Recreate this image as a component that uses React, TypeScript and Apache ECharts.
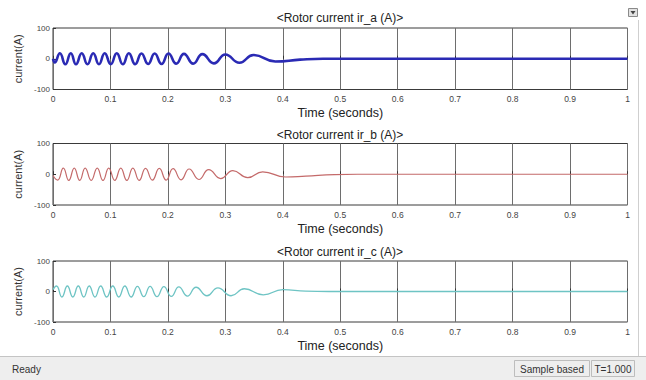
import React, { useEffect, useRef } from "react";
import * as echarts from "echarts";

// Extremes (time s, current A)
const currentA: [number, number][] = [
  [0, 0], [0.003, -12], [0.012, 18], [0.0215, -18], [0.031, 18], [0.04, -18], [0.05, 18],
  [0.06, -18], [0.07, 18], [0.08, -18], [0.09, 18], [0.1005, -18], [0.111, 18], [0.1215, -18],
  [0.132, 18], [0.143, -18], [0.154, 17], [0.1655, -17], [0.177, 17], [0.189, -17], [0.201, 17],
  [0.2145, -16], [0.228, 16], [0.244, -16], [0.26, 15], [0.28, -15], [0.3, 14], [0.3245, -13],
  [0.349, 12], [0.387, -9], [0.43, -3], [0.47, 0], [1, 0],
];
const currentB: [number, number][] = [
  [0, -4], [0.008, -19], [0.018, 20], [0.0275, -20], [0.037, 20], [0.0465, -20], [0.056, 20],
  [0.0665, -20], [0.077, 20], [0.087, -20], [0.097, 20], [0.1075, -20], [0.118, 20], [0.1285, -20],
  [0.139, 20], [0.15, -20], [0.161, 19], [0.173, -19], [0.185, 19], [0.197, -19], [0.209, 18],
  [0.223, -18], [0.237, 17], [0.254, -17], [0.271, 15], [0.292, -14], [0.313, 12], [0.339, -11],
  [0.365, 8], [0.405, -9], [0.44, -6], [0.49, -1], [0.53, 0], [1, 0],
];
const currentC: [number, number][] = [
  [0, 6], [0.006, 18], [0.0155, -18], [0.025, 18], [0.0345, -18], [0.044, 18], [0.0535, -18],
  [0.063, 18], [0.073, -18], [0.083, 18], [0.0935, -18], [0.104, 18], [0.1145, -18], [0.125, 18],
  [0.136, -18], [0.147, 17], [0.158, -17], [0.169, 17], [0.181, -17], [0.193, 16], [0.206, -16],
  [0.219, 15], [0.234, -15], [0.249, 14], [0.268, -14], [0.287, 12], [0.31, -14], [0.333, 9],
  [0.366, -11], [0.4, 6], [0.44, 1], [0.48, 0], [1, 0],
];

const panelTitles = ["<Rotor current ir_a (A)>", "<Rotor current ir_b (A)>", "<Rotor current ir_c (A)>"];
const xName = "Time (seconds)";
const yName = "current(A)";
const statusTexts = ["Ready", "Sample based", "T=1.000"];
const traceColors = ["#2a2ab4", "#c46a6a", "#6ec4c4"];
const traceWidths = [2.6, 1.2, 1.3];

const FONT = "'Liberation Sans', Arial, sans-serif";

export default function App() {
  const ref = useRef<HTMLDivElement>(null);
  useEffect(() => {
    const chart = echarts.init(ref.current!, null, { renderer: "svg" });
    const tops = [28, 143.5, 261];
    const heights = [61.5, 61.5, 61];
    const titleY = [18, 135, 251.5];
    const series = [currentA, currentB, currentC];

    const grids = tops.map((t, i) => ({
      left: 53,
      width: 574.5,
      top: t,
      height: heights[i],
      show: true,
      borderColor: "#3a3a3a",
      borderWidth: 1,
      backgroundColor: "#ffffff",
    }));
    const xAxes = tops.map((_, i) => ({
      type: "value",
      gridIndex: i,
      min: 0,
      max: 1,
      interval: 0.1,
      axisLine: { show: false },
      axisTick: { show: true, inside: true, length: 3, lineStyle: { color: "#333" } },
      axisLabel: { fontSize: 8.5, color: "#444", margin: 5, fontFamily: FONT },
      splitLine: { show: true, lineStyle: { color: "#6e6e6e", width: 1 } },
      name: xName,
      nameLocation: "middle",
      nameGap: 17,
      nameTextStyle: { fontSize: 12.5, color: "#222", fontFamily: FONT },
    }));
    const yAxes = tops.map((_, i) => ({
      type: "value",
      gridIndex: i,
      min: -100,
      max: 100,
      interval: 100,
      axisLine: { show: false },
      axisTick: { show: true, inside: true, length: 3, lineStyle: { color: "#333" } },
      axisLabel: { fontSize: 8, color: "#444", margin: 3, fontFamily: FONT },
      splitLine: { show: false },
      name: yName,
      nameLocation: "middle",
      nameGap: 27,
      nameTextStyle: { fontSize: 11, color: "#333", fontFamily: FONT },
    }));
    const lines = series.map((d, i) => ({
      type: "line",
      xAxisIndex: i,
      yAxisIndex: i,
      data: d,
      smooth: 0.5,
      showSymbol: false,
      symbol: "none",
      lineStyle: { color: traceColors[i], width: traceWidths[i] },
      z: 3,
    }));

    const graphics: any[] = [
      ...panelTitles.map((t, i) => ({
        type: "text",
        x: 340,
        y: titleY[i],
        style: { text: t, align: "center", verticalAlign: "middle", fontSize: 12, fill: "#222", fontFamily: FONT },
      })),
      { type: "line", shape: { x1: 638.5, y1: 20, x2: 638.5, y2: 357 }, style: { stroke: "#cfcfcf", lineWidth: 1 } },
      { type: "rect", shape: { x: 628.5, y: 8.5, width: 9, height: 8 }, style: { fill: "#e2e2e2", stroke: "#8a8a8a", lineWidth: 1 } },
      { type: "polygon", shape: { points: [[630.5, 11], [635.5, 11], [633, 14.5]] }, style: { fill: "#444" } },
      { type: "rect", shape: { x: 0, y: 356, width: 646, height: 24 }, style: { fill: "#eeeeee" } },
      { type: "line", shape: { x1: 0, y1: 356.5, x2: 646, y2: 356.5 }, style: { stroke: "#c4c4c4", lineWidth: 1 } },
      {
        type: "text", x: 12, y: 369,
        style: { text: statusTexts[0], align: "left", verticalAlign: "middle", fontSize: 10, fill: "#333", fontFamily: FONT },
      },
      { type: "rect", shape: { x: 514.5, y: 360.5, width: 75, height: 16 }, style: { fill: "none", stroke: "#bdbdbd", lineWidth: 1 } },
      { type: "rect", shape: { x: 591.5, y: 360.5, width: 43, height: 16 }, style: { fill: "none", stroke: "#bdbdbd", lineWidth: 1 } },
      {
        type: "text", x: 552, y: 369,
        style: { text: statusTexts[1], align: "center", verticalAlign: "middle", fontSize: 10, fill: "#333", fontFamily: FONT },
      },
      {
        type: "text", x: 613, y: 369,
        style: { text: statusTexts[2], align: "center", verticalAlign: "middle", fontSize: 10, fill: "#333", fontFamily: FONT },
      },
    ];

    chart.setOption({
      animation: false,
      backgroundColor: "#ffffff",
      textStyle: { fontFamily: FONT },
      grid: grids,
      xAxis: xAxes,
      yAxis: yAxes,
      series: lines,
      graphic: graphics,
    } as any);
    return () => chart.dispose();
  }, []);
  return (
    <div
      ref={ref}
      style={{ position: "absolute", left: 0, top: 0, width: 646, height: 380, background: "#fff" }}
    />
  );
}
